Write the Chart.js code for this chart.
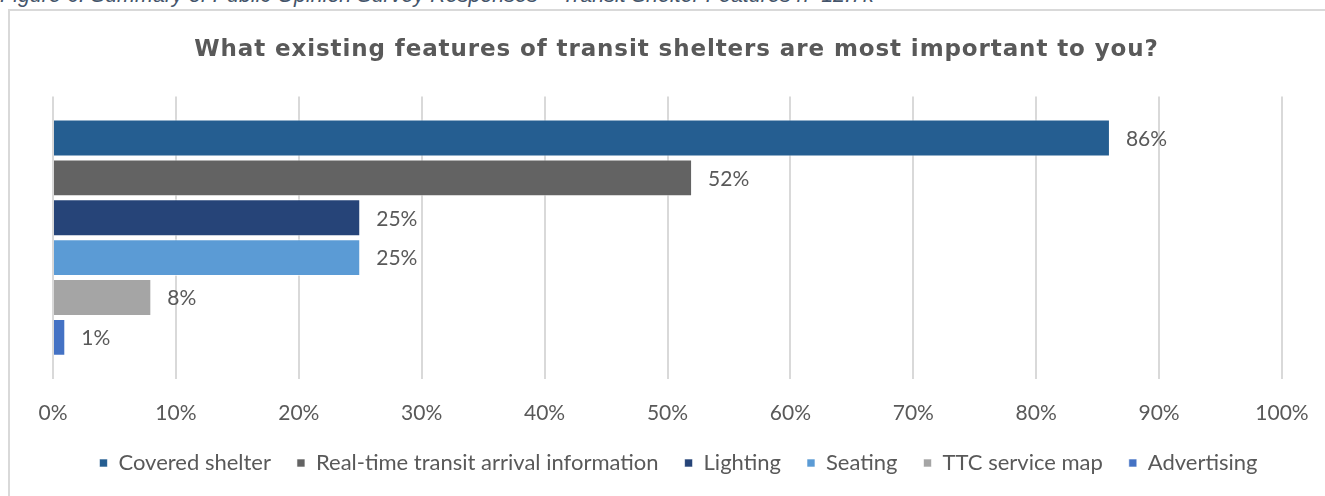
<!DOCTYPE html>
<html>
<head>
<meta charset="utf-8">
<script src="https://cdn.jsdelivr.net/npm/chart.js@4"></script>
<style>
  html, body { margin: 0; padding: 0; background: #fff; overflow: hidden; }
  body { width: 1325px; height: 496px; position: relative; }
  .caption {
    position: absolute; left: 0; top: -15px;
    font: italic 21.5px "Liberation Sans", Arial, sans-serif;
    color: #44546a; white-space: nowrap; line-height: 21px;
  }
  .frame {
    position: absolute; left: 8px; top: 9px; width: 1400px; height: 600px;
    border: 2px solid #d9d9d9;
  }
  #wrap { position: absolute; left: 10px; top: 11px; }
</style>
</head>
<body>
<div class="caption">Figure 6: Summary of Public Opinion Survey Responses – Transit Shelter Features n=12.7k</div>
<div class="frame"></div>
<div id="wrap"><canvas id="featureChart" width="1330" height="485"></canvas></div>
<script>
'use strict';

// 回答データ（割合 %）
const categories = ['Covered shelter', 'Real-time transit arrival information', 'Lighting', 'Seating', 'TTC service map', 'Advertising'];
const shares = [86, 52, 25, 25, 8, 1];
const barColors = ['#255e91', '#636363', '#264478', '#5b9bd5', '#a5a5a5', '#4472c4'];
const tickLabels = ['0%', '10%', '20%', '30%', '40%', '50%', '60%', '70%', '80%', '90%', '100%'];

const textColor = '#595959';
const bodyFont = 'Lato, "Noto Sans", sans-serif';

// バーの右側に値を表示する
const valueLabels = {
    id: 'valueLabels',
    afterDatasetsDraw(chart) {
        const ctx = chart.ctx;
        ctx.save();
        ctx.font = '21px ' + bodyFont;
        ctx.fillStyle = textColor;
        ctx.textAlign = 'left';
        ctx.textBaseline = 'middle';
        chart.data.datasets.forEach((ds, i) => {
            const bar = chart.getDatasetMeta(i).data[0];
            ctx.fillText(ds.data[0] + '%', bar.x + 16, bar.y + 1);
        });
        ctx.restore();
    }
};

// タイトルと凡例を少し右へ寄せ、タイトルの字間を広げる
const boxShift = {
    id: 'boxShift',
    afterLayout(chart) {
        const shift = (box, dx) => { box.left += dx; box.right += dx; };
        const title = chart.titleBlock;
        shift(title, 9);
        shift(chart.legend, 11);
        if (!title._spaced) {
            const draw = title.draw.bind(title);
            title.draw = function () {
                this.ctx.letterSpacing = '0.9px';
                draw();
                this.ctx.letterSpacing = '0px';
            };
            title._spaced = true;
        }
    }
};

let ctx = document.getElementById('featureChart');
let myChart = new Chart(ctx, {
    type: 'bar',
    data: {
        labels: [''],
        // 項目ごとにデータセットを分けて凡例に並べる
        datasets: categories.map((name, i) => ({
            label: name,
            data: [shares[i]],
            backgroundColor: barColors[i],
            borderColor: 'rgba(255,255,255,0.6)',
            borderWidth: 1,
            categoryPercentage: 0.848,
            barPercentage: 0.925
        }))
    },
    options: {
        indexAxis: 'y',
        responsive: false,
        animation: false,
        layout: {
            padding: { left: 43, right: 58, top: 0, bottom: 12 }
        },
        scales: {
            x: {
                min: 0,
                max: 100,
                grid: { color: '#d9d9d9', lineWidth: 2, drawTicks: false },
                border: { display: false },
                ticks: {
                    stepSize: 10,
                    padding: 22,
                    color: textColor,
                    font: { family: bodyFont, size: 21 },
                    callback: (v, i) => tickLabels[i]
                }
            },
            y: { display: false }
        },
        plugins: {
            title: {
                display: true,
                text: 'What existing features of transit shelters are most important to you?',
                color: textColor,
                font: { family: '"DejaVu Sans", sans-serif', size: 23, weight: 'bold' },
                padding: { top: 25, bottom: 33 }
            },
            legend: {
                position: 'bottom',
                labels: {
                    boxWidth: 8,
                    boxHeight: 8,
                    padding: 4,
                    color: textColor,
                    font: { family: bodyFont, size: 22 },
                    // 項目の間隔を広げるため末尾に空白を足す
                    generateLabels(chart) {
                        const items = Chart.defaults.plugins.legend.labels.generateLabels(chart);
                        items.forEach((it, i) => {
                            if (i < items.length - 1) it.text += '\u2003\u2009\u2009';
                        });
                        return items;
                    }
                }
            },
            tooltip: { enabled: false }
        }
    },
    plugins: [valueLabels, boxShift]
});
</script>
</body>
</html>
